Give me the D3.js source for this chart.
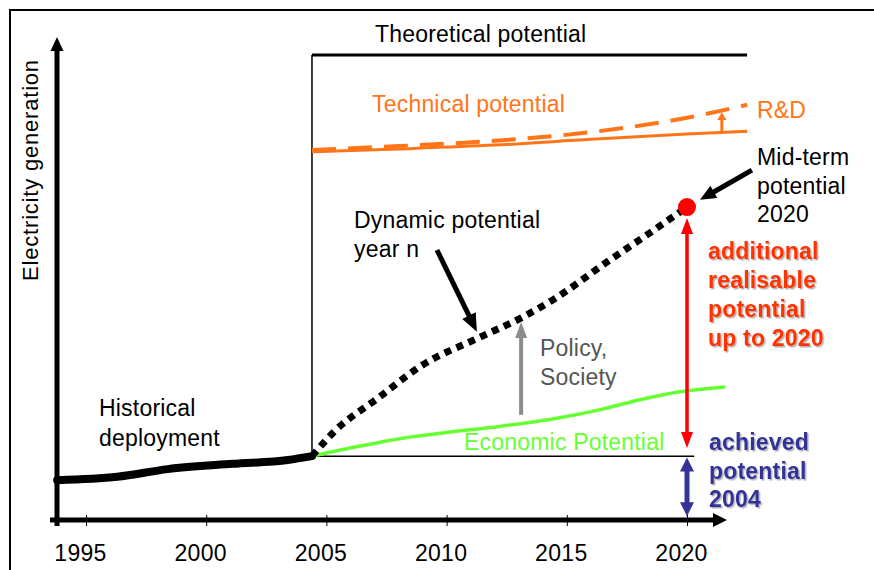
<!DOCTYPE html>
<html>
<head>
<meta charset="utf-8">
<script src="https://cdn.jsdelivr.net/npm/d3@7"></script>
<style>
  body { margin: 0; background: #fff; }
  svg { display: block; font-family: "Liberation Sans", Arial, sans-serif; }
</style>
</head>
<body>
<svg id="chart" width="874" height="570"></svg>
<script>
const tickYears = [1995, 2000, 2005, 2010, 2015, 2020];

const histYears = [1993.8, 1996.3, 1998.4, 2001.1, 2003.4, 2004.4];
const histValues = [8.3, 9.0, 10.6, 11.7, 12.5, 13.3];

const techYears = [2004.4, 2008, 2012, 2016, 2020, 2022.5];
const techValues = [76.7, 77.3, 78.1, 79.3, 80.4, 81.0];
const techRdValues = [77.1, 77.9, 79.0, 80.8, 83.8, 86.5];

const dynYears = [2004.4, 2005.3, 2007.2, 2009.0, 2011.4, 2013.1, 2014.4, 2016.8, 2018.8, 2020];
const dynValues = [13.3, 18.3, 25.6, 32.3, 38.1, 42.1, 45.8, 54.2, 61.0, 65.2];

const econYears = [2004.4, 2006.4, 2008.1, 2010.1, 2012.2, 2014.7, 2016.4, 2018.0, 2019.7, 2021.6];
const econValues = [13.3, 15.4, 17.0, 18.3, 19.5, 21.3, 23.0, 25.0, 26.7, 27.7];

const theoreticalYears = [2004.4, 2004.4, 2022.5];
const theoreticalValues = [13.3, 96.9, 96.9];
const achievedYears = [2004.4, 2020.3];
const achievedValue = 13.3;

const midTerm = { year: 2020, value: 65.2 };

const svg = d3.select("#chart");

const x = d3.scaleLinear().domain([1995, 2020]).range([86, 687]);
const y = d3.scaleLinear().domain([0, 100]).range([520, 40]);

const defs = svg.append("defs");
defs.append("filter")
  .attr("id", "shadow")
  .append("feDropShadow")
  .attr("dx", 1.5).attr("dy", 1.5)
  .attr("stdDeviation", 0.6)
  .attr("flood-color", "#000")
  .attr("flood-opacity", 0.3);

// outer frame (top and left only)
svg.append("path")
  .attr("d", "M10,570 V10 H874")
  .attr("fill", "none")
  .attr("stroke", "#000")
  .attr("stroke-width", 2);

// arrow in pixel space, head at the end, optional head at the start
function arrow(p1, p2, o) {
  const ang = Math.atan2(p2[1] - p1[1], p2[0] - p1[0]);
  const c = Math.cos(ang), s = Math.sin(ang);
  const a = o.both ? [p1[0] + c * o.len * 0.8, p1[1] + s * o.len * 0.8] : p1;
  const b = [p2[0] - c * o.len * 0.8, p2[1] - s * o.len * 0.8];
  svg.append("line")
    .attr("x1", a[0]).attr("y1", a[1])
    .attr("x2", b[0]).attr("y2", b[1])
    .attr("stroke", o.color)
    .attr("stroke-width", o.width);
  const head = (t, cs, sn) => {
    const bx = t[0] - cs * o.len, by = t[1] - sn * o.len;
    const pts = [
      t,
      [bx - sn * o.hw / 2, by + cs * o.hw / 2],
      [bx + sn * o.hw / 2, by - cs * o.hw / 2]
    ];
    svg.append("polygon")
      .attr("points", pts.map(p => p.join(",")).join(" "))
      .attr("fill", o.color);
  };
  head(p2, c, s);
  if (o.both) head(p1, -c, -s);
}

const line = d3.line()
  .x(d => x(d[0]))
  .y(d => y(d[1]))
  .curve(d3.curveMonotoneX);
const straight = d3.line().x(d => x(d[0])).y(d => y(d[1]));

// theoretical potential
const theo = d3.zip(theoreticalYears, theoreticalValues);
svg.append("path")
  .attr("d", straight(theo.slice(0, 2)))
  .attr("stroke", "#000").attr("stroke-width", 1.5).attr("fill", "none");
svg.append("path")
  .attr("d", straight(theo.slice(1)))
  .attr("stroke", "#000").attr("stroke-width", 3).attr("fill", "none");

// achieved level
svg.append("line")
  .attr("x1", x(achievedYears[0])).attr("x2", x(achievedYears[1]))
  .attr("y1", y(achievedValue)).attr("y2", y(achievedValue))
  .attr("stroke", "#000").attr("stroke-width", 1.5);

// technical potential
svg.append("path")
  .attr("d", line(d3.zip(techYears, techValues)))
  .attr("fill", "none").attr("stroke", "#ff7518").attr("stroke-width", 3);
svg.append("path")
  .attr("d", line(d3.zip(techYears, techRdValues)))
  .attr("fill", "none").attr("stroke", "#ff7518").attr("stroke-width", 4)
  .attr("stroke-dasharray", "24,12");

// economic potential
svg.append("path")
  .attr("d", line(d3.zip(econYears, econValues)))
  .attr("fill", "none").attr("stroke", "#66ff33").attr("stroke-width", 3.5);

// dynamic potential
svg.append("path")
  .attr("d", line(d3.zip(dynYears, dynValues)))
  .attr("fill", "none").attr("stroke", "#000").attr("stroke-width", 7)
  .attr("stroke-dasharray", "7,6");

// historical deployment
svg.append("path")
  .attr("d", line(d3.zip(histYears, histValues)))
  .attr("fill", "none").attr("stroke", "#000").attr("stroke-width", 8)
  .attr("stroke-linecap", "round");

// arrows
arrow([x(2021.45), y(80.8)], [x(2021.45), y(85)], { color: "#ff7518", width: 3, len: 8, hw: 9 });
arrow([x(2013.1), y(21.9)], [x(2013.1), y(41.25)], { color: "#8c8c8c", width: 4, len: 16, hw: 12 });
arrow([x(2020), y(15)], [x(2020), y(62.9)], { color: "#ff0000", width: 3.5, len: 16, hw: 12, both: true });
arrow([x(2020), y(0.8)], [x(2020), y(13)], { color: "#333399", width: 5, len: 14, hw: 14, both: true });
arrow([x(2009.6), y(56.25)], [x(2011.26), y(39.2)], { color: "#000", width: 5, len: 18, hw: 15 });
arrow([x(2022.7), y(72.9)], [x(2020.54), y(66.7)], { color: "#000", width: 5, len: 16, hw: 14 });

svg.append("circle")
  .attr("cx", x(midTerm.year)).attr("cy", y(midTerm.value))
  .attr("r", 9).attr("fill", "#ff0000");

// x axis
const ax = svg.append("g")
  .attr("transform", `translate(0,${y(0)})`)
  .call(d3.axisBottom(x).tickValues(tickYears).tickFormat(d3.format("d")).tickSizeOuter(0));
ax.select(".domain").remove();
ax.selectAll(".tick line").attr("y1", -5).attr("y2", 6).attr("stroke", "#000");
ax.selectAll(".tick text")
  .attr("y", 25).attr("dx", -6)
  .attr("fill", "#000")
  .attr("font-size", 23)
  .attr("letter-spacing", 0.3)
  .attr("font-family", "Liberation Sans, Arial, sans-serif");

arrow([50, y(0)], [727, y(0)], { color: "#000", width: 5, len: 14, hw: 14 });
arrow([57, 526], [57, 37], { color: "#000", width: 5, len: 14, hw: 13 });

// labels
function label(lines, px, py, step, fill, bold, shadow) {
  const t = svg.append("text")
    .attr("x", px).attr("y", py)
    .attr("fill", fill)
    .attr("font-size", 23)
    .attr("letter-spacing", 0.2)
    .attr("font-weight", bold ? "bold" : "normal");
  if (shadow) t.attr("filter", "url(#shadow)");
  lines.forEach((l, i) => {
    t.append("tspan").attr("x", px).attr("y", py + i * step).text(l);
  });
}

label(["Theoretical potential"], 375, 42, 0, "#000");
label(["Technical potential"], 372, 112, 0, "#ff7518");
label(["R&D"], 757, 118, 0, "#ff7518");
label(["Mid-term", "potential", "2020"], 757, 165, 28.5, "#000");
label(["Dynamic potential", "year n"], 354, 228, 29, "#000");
label(["additional", "realisable", "potential", "up to 2020"], 708, 259, 29, "#ff3300", true, true);
label(["Policy,", "Society"], 540, 356, 29, "#555");
label(["Historical", "deployment"], 99, 416, 30, "#000");
label(["Economic Potential"], 464, 450, 0, "#66ff33");
label(["achieved", "potential", "2004"], 709, 450, 28.5, "#333399", true, true);

svg.append("text")
  .attr("transform", "translate(38,170) rotate(-90)")
  .attr("text-anchor", "middle")
  .attr("font-size", 22)
  .attr("letter-spacing", 0.8)
  .attr("fill", "#000")
  .text("Electricity generation");
</script>
</body>
</html>
